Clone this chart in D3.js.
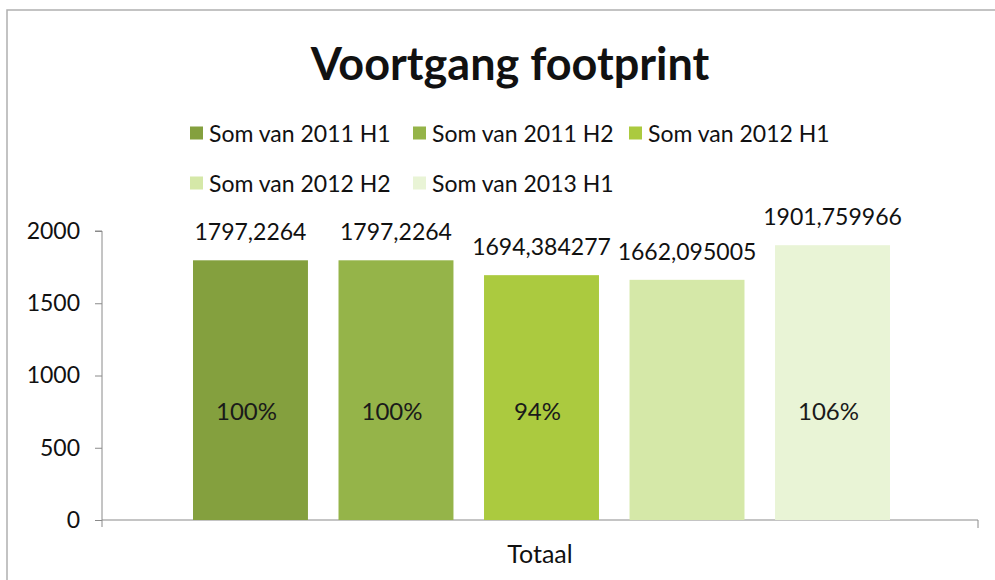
<!DOCTYPE html>
<html><head><meta charset="utf-8">
<script src="https://cdn.jsdelivr.net/npm/d3@7"></script>
<style>body{margin:0;background:#fff}svg{display:block}text{font-family:Lato,"Open Sans",sans-serif}</style>
</head><body><svg id="c" width="995" height="580"></svg>
<script>
const categories = ["Totaal"];
const seriesNames = ["Som van 2011 H1","Som van 2011 H2","Som van 2012 H1","Som van 2012 H2","Som van 2013 H1"];
const seriesValues = [1797.2264, 1797.2264, 1694.384277, 1662.095005, 1901.759966];
const valueLabels = ["1797,2264","1797,2264","1694,384277","1662,095005","1901,759966"];
const percentLabels = ["100%","100%","94%",null,"106%"];
const seriesColors = ["#84a03e","#95b449","#abca3f","#d5e8a8","#e9f4d6"];
const yTicks = [0,500,1000,1500,2000];

const svg = d3.select("#c");
// chart frame (top and left edges visible)
svg.append("path").attr("d","M7,580V10H995").attr("fill","none")
  .attr("stroke","#b0b0b0").attr("stroke-width",1.5);

svg.append("text").attr("x",510).attr("y",80).attr("text-anchor","middle")
  .attr("font-size",45).attr("font-weight",700).attr("fill","#111").text("Voortgang footprint");

const y = d3.scaleLinear().domain([0,2000]).range([520,231]);
const x0 = d3.scaleBand().domain(categories).range([102,978]);
const x1 = d3.scaleBand().domain(seriesNames)
  .range([x0(categories[0])+91, x0(categories[0])+x0.bandwidth()-88]).paddingInner(0.21);

// axes
const yAxis = d3.axisLeft(y).tickValues(yTicks).tickSize(7).tickPadding(15).tickFormat(d3.format("d"));
const gy = svg.append("g").attr("transform","translate(102,0)").call(yAxis);
gy.select(".domain").attr("stroke","#8a8a8a").attr("d","M-7,231H0V520");
gy.selectAll(".tick line").attr("stroke","#8a8a8a");
gy.selectAll(".tick text").attr("font-size",23).attr("fill","#111").attr("font-family","Lato");

const xAxis = d3.axisBottom(x0).tickSize(0).tickPadding(25);
const gx = svg.append("g").attr("transform","translate(0,520)").call(xAxis);
gx.select(".domain").attr("stroke","#8a8a8a").attr("d","M102,7V0H978V8");
gx.selectAll(".tick text").attr("font-size",25).attr("fill","#111").attr("font-family","Lato");

// bars
const data = seriesNames.map((s,i)=>({s, v:seriesValues[i], lab:valueLabels[i], pct:percentLabels[i], c:seriesColors[i]}));
const g = svg.append("g");
g.selectAll("rect.bar").data(data).join("rect").attr("class","bar")
  .attr("x",d=>x1(d.s)).attr("width",x1.bandwidth())
  .attr("y",d=>y(d.v)).attr("height",d=>y(0)-y(d.v)).attr("fill",d=>d.c);
g.selectAll("text.val").data(data).join("text").attr("class","val")
  .attr("x",d=>x1(d.s)+x1.bandwidth()/2).attr("y",d=>y(d.v)-20)
  .attr("text-anchor","middle").attr("font-size",23).attr("fill","#111").text(d=>d.lab);
g.selectAll("text.pct").data(data.filter(d=>d.pct)).join("text").attr("class","pct")
  .attr("x",d=>x1(d.s)+x1.bandwidth()/2 - 4).attr("y",y(750)+8)
  .attr("text-anchor","middle").attr("font-size",24).attr("fill","#1a1a1a").text(d=>d.pct);

// legend
const legPos = [[190,141.5],[413,141.5],[629,141.5],[190,191.5],[413,191.5]];
const lg = svg.append("g");
data.forEach((d,i)=>{
  const [lx,ly] = legPos[i];
  lg.append("rect").attr("x",lx).attr("y",ly-15).attr("width",13).attr("height",13).attr("fill",d.c);
  lg.append("text").attr("x",lx+19).attr("y",ly).attr("font-size",23).attr("fill","#111").text(d.s);
});
</script></body></html>
